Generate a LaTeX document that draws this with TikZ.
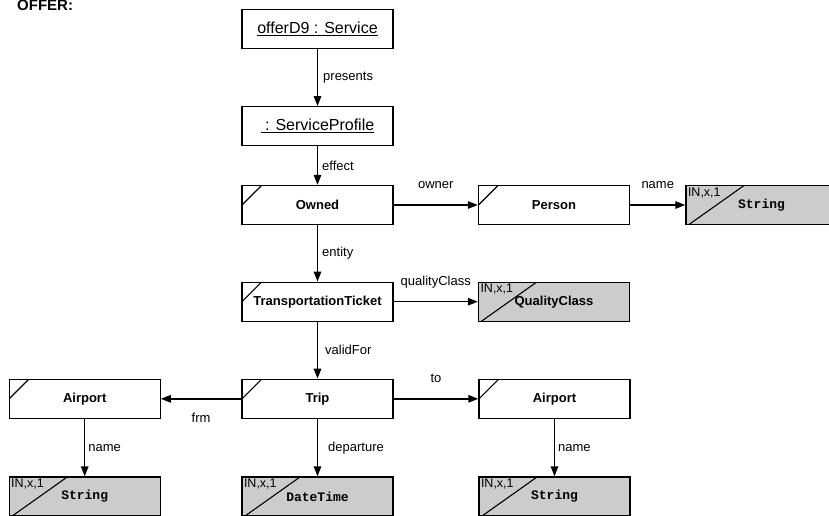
\documentclass[tikz,border=0pt]{standalone}
\usepackage{fontspec}
\setmainfont{Liberation Sans}
\setmonofont{Liberation Mono}
\usetikzlibrary{arrows.meta,positioning}
\definecolor{typegray}{RGB}{204,204,204}
\tikzset{
  objbox/.style={draw, line width=1.4pt, minimum width=151pt, minimum height=39pt,
    inner sep=0pt, fill=white},
  inst/.style={objbox, font=\fontsize{16}{19}\selectfont},
  % class box with the cut in its upper left corner
  cls/.style={objbox, font=\fontsize{13}{16}\selectfont\bfseries,
    path picture={\draw[line width=1.1pt] (path picture bounding box.west)
      -- ([xshift=19.5pt]path picture bounding box.north west);}},
  % data type box, gray
  dtype/.style={objbox, fill=typegray, font=\fontsize{13}{16}\selectfont\bfseries,
    path picture={\draw[line width=1.1pt] ([xshift=3pt]path picture bounding box.south west)
      -- ([xshift=58pt]path picture bounding box.north west);}},
  % multiplicity tag in the data type corner
  tag/.style={anchor=north west, inner sep=0pt, font=\fontsize{12.5}{14}\selectfont},
  link/.style={-{Triangle[length=10pt,width=7.5pt]}, line width=1.4pt},
  lbl/.style={font=\fontsize{13}{16}\selectfont, inner sep=0pt},
}

\begin{document}
\begin{tikzpicture}[x=1pt,y=-1pt]
  \useasboundingbox (0,0) rectangle (829,515);
  \clip (0,0) rectangle (829,515);
  \node[font=\fontsize{15}{18}\selectfont\bfseries, anchor=base west, inner sep=0pt]
    (title) at (17,10.5) {OFFER:};
  % instances
  \node[inst] (offer) at (317.5,28.8) {\underline{offerD9 : Service}};
  \node[inst] (profile) at (317.5,126.2) {\underline{~: ServiceProfile}};
  % classes
  \node[cls] (owned) at (317.5,205) {Owned};
  \node[cls] (person) at (554,205) {Person};
  \node[cls] (ticket) at (317.5,301.7) {TransportationTicket};
  \node[cls] (trip) at (317.5,398.8) {Trip};
  \node[cls] (afrom) at (84.7,398.8) {Airport};
  \node[cls] (ato) at (554.5,398.8) {Airport};
  % data types
  \node[dtype] (pname) at (761.5,205) {\texttt{String}};
  \node[dtype] (qclass) at (554,301.7) {QualityClass};
  \node[dtype] (fname) at (84.7,496.5) {\texttt{String}};
  \node[dtype] (dep) at (317.5,496.5) {\texttt{DateTime}};
  \node[dtype] (tname) at (554.5,496.5) {\texttt{String}};
  \foreach \n in {pname,qclass,fname,dep,tname}
    \node[tag] (\n-tag) at ([xshift=2.5pt,yshift=-2.5pt]\n.north west) {IN,x,1};
  % vertical links
  \foreach \a/\b/\t/\s in {offer/profile/presents/5, profile/owned/effect/4,
      owned/ticket/entity/4, ticket/trip/validFor/7, trip/dep/departure/10,
      afrom/fname/name/3, ato/tname/name/3}
    \draw[link] (\a) -- node[lbl, anchor=west, xshift=\s pt] {\t} (\b);
  % horizontal links
  \draw[link] (owned) -- node[lbl, anchor=base, yshift=16.5pt] {owner} (person);
  \draw[link] (person) -- node[lbl, anchor=base, yshift=16.5pt] {name} (pname);
  \draw[link] (ticket) -- node[lbl, anchor=base, yshift=16pt] {qualityClass} (qclass);
  \draw[link] (trip) -- node[lbl, anchor=base, yshift=-23.5pt] {frm} (afrom);
  \draw[link] (trip) -- node[lbl, anchor=base, yshift=16pt] {to} (ato);
\end{tikzpicture}
\end{document}
